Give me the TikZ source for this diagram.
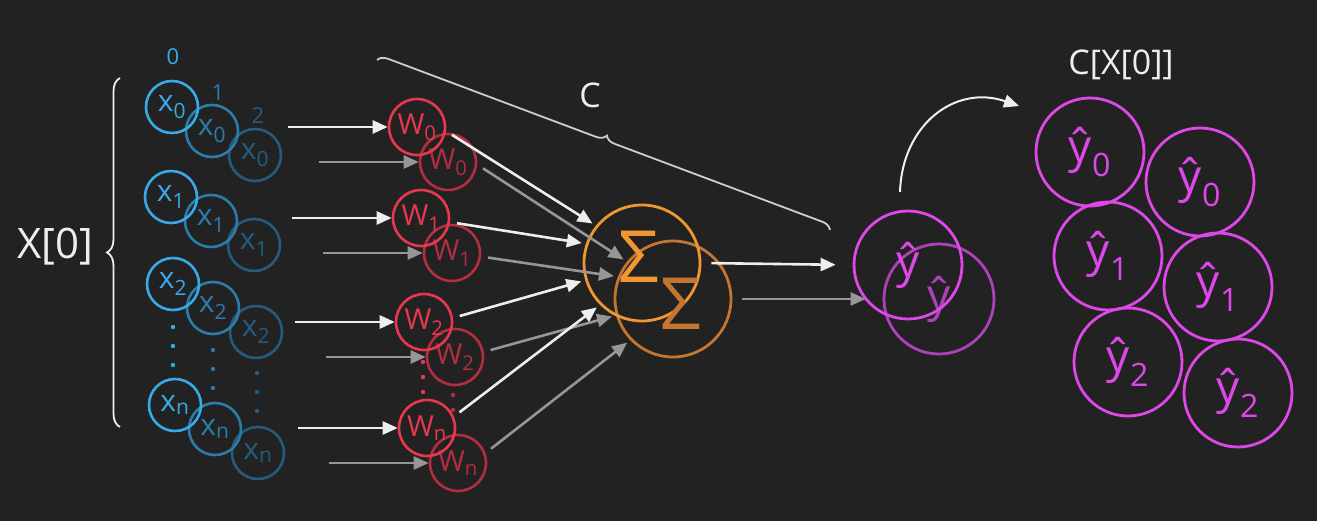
\documentclass[tikz,border=0pt]{standalone}
\usepackage{fontspec}
\setmainfont{Open Sans}
\usetikzlibrary{arrows.meta,decorations.pathreplacing,calc}
\definecolor{fond}{RGB}{34,34,34}
\definecolor{blanc}{RGB}{238,238,238}
\definecolor{grisc}{RGB}{205,205,205}
\definecolor{gris}{RGB}{150,150,150}
\definecolor{bleu}{RGB}{56,170,232}
\definecolor{bleuB}{RGB}{44,124,170}
\definecolor{bleuC}{RGB}{36,92,128}
\definecolor{rouge}{RGB}{232,56,78}
\definecolor{rougeB}{RGB}{178,46,64}
\definecolor{orangeS}{RGB}{240,150,50}
\definecolor{orangeB}{RGB}{196,118,48}
\definecolor{mauve}{RGB}{222,72,232}
\definecolor{mauveB}{RGB}{172,66,186}

\begin{document}
\begin{tikzpicture}[x=1pt, y=-1pt,
  cx/.style={circle, draw, line width=2.6pt, minimum size=52pt, inner sep=0pt, font=\fontsize{30}{32}\selectfont},
  cw/.style={circle, draw, line width=2.6pt, minimum size=56pt, inner sep=0pt, font=\fontsize{29}{31}\selectfont},
  cs/.style={circle, draw, line width=2.8pt, minimum size=116pt, inner sep=0pt},
  sig/.style={inner sep=0pt, font=\fontsize{72}{74}\selectfont},
  cy/.style={circle, draw, line width=2.8pt, minimum size=108pt, inner sep=0pt, font=\fontsize{46}{50}\selectfont},
  fleche/.style={blanc, line width=2.6pt, -{Triangle[length=15pt,width=13pt]}},
  flecheg/.style={gris, line width=2.6pt, -{Triangle[length=15pt,width=13pt]}},
  accolade/.style={decorate, decoration={brace, amplitude=#1}, line width=1.8pt}
]
% Fond
\useasboundingbox (0,0) rectangle (1317,521);
\fill[fond] (0,0) rectangle (1317,521);

% Entrees x (trois colonnes)
\foreach \n/\x/\y in {0/172/107, 1/171/197, 2/173/284, n/175/405} {
    \node[cx, bleuC] (x\n-c) at (\x+83,\y+48) {x\textsubscript{\n}};
    \node[cx, bleuB] (x\n-b) at (\x+40,\y+24) {x\textsubscript{\n}};
    \node[cx, bleu] (x\n-a) at (\x,\y) {x\textsubscript{\n}};
}
\node[bleu, font=\fontsize{22}{24}\selectfont] (l0) at (173,57) {0};
\node[bleuB, font=\fontsize{22}{24}\selectfont] (l1) at (218,93) {1};
\node[bleuC, font=\fontsize{22}{24}\selectfont] (l2) at (258,116) {2};
\foreach \y in {327,346,365} \fill[bleu] (173,\y) circle (2.2);
\foreach \y in {350,369,388} \fill[bleuB] (213,\y) circle (2.2);
\foreach \y in {373,392,411} \fill[bleuC] (257,\y) circle (2.2);

% Accolade X[0]
\draw[accolade=13pt, blanc] (120,427) -- (120,78);
\node[blanc, font=\fontsize{42}{46}\selectfont] (lx) at (55,247) {X[0]};

% Poids W
\foreach \n/\x/\y in {0/417/127, 1/421/218, 2/424/322, n/427/428} {
    \node[cw, rougeB] (W\n-b) at (\x+31,\y+35) {W\textsubscript{\n}};
    \node[cw, rouge] (W\n-a) at (\x,\y) {W\textsubscript{\n}};
    \draw[fleche] ($(W\n-a.west)+(-100,0)$) -- (W\n-a.west);
    \draw[flecheg] ($(W\n-b.west)+(-100,0)$) -- (W\n-b.west);
}
\foreach \y in {362,377,392} \fill[rouge] (423,\y) circle (2.2);
\foreach \y in {395,410} \fill[rougeB] (453,\y) circle (2.2);

% Somme
\node[cs, orangeB] (sig-b) at (673,299) {};
\node[cs, orangeS] (sig-a) at (642,263) {};
\node[sig, orangeB] (tsig-b) at (681,304) {Σ};
\node[sig, orangeS] (tsig-a) at (639,257) {Σ};
\foreach \n/\s/\e/\sg/\eg in {0/-8/141/-5/141, 1/-8/161/-7/158, 2/8/197/10/196, n/23/225/20/224} {
    \draw[fleche, shorten <=7pt, shorten >=4pt] (W\n-a.\s) -- (sig-a.\e);
    \draw[flecheg, shorten <=7pt, shorten >=4pt] (W\n-b.\sg) -- (sig-b.\eg);
}

% Accolade C
\draw[accolade=10pt, grisc] (377,60) -- (830,230);
\node[blanc, font=\fontsize{34}{36}\selectfont] (lc) at (590,95) {C};

% Sorties
\node[cy, mauveB, minimum size=110pt] (y-b) at (939,299) {ŷ};
\node[cy, mauve] (y-a) at (908,265) {ŷ};
\draw[fleche, shorten <=10pt, shorten >=17pt] (sig-a.east) -- (y-a.west);
\draw[flecheg, shorten <=10pt, shorten >=17pt] (sig-b.east) -- (y-b.west);

% Fleche courbe
\coordinate (dep) at (900,192);
\coordinate (arr) at (1019,106);
\draw[fleche, line width=2pt] (dep) .. controls (902,125) and (955,84) .. (arr);

% Grille C[X[0]]
\node[blanc, font=\fontsize{34}{36}\selectfont] (titre) at (1121,65) {C[X[0]]};
\foreach \i/\x/\y/\t in {0/1090/152/0, 1/1200/182/0, 2/1108/256/1, 3/1218/287/1, 4/1128/362/2, 5/1238/393/2} {
    \node[cy, mauve] (g\i) at (\x,\y) {ŷ\textsubscript{\t}};
}

\end{tikzpicture}
\end{document}
